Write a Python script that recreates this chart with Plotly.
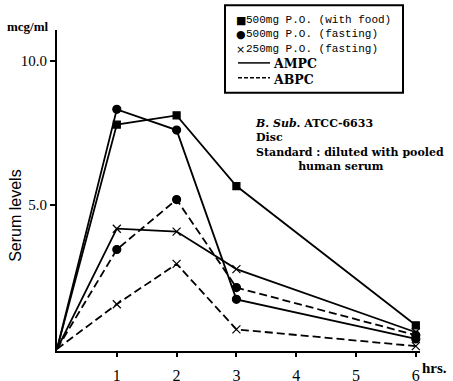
import plotly.graph_objects as go

# ---- data ----
hours = [0, 1, 2, 3, 6]
ampc_500_food = [0, 7.78, 8.10, 5.65, 0.82]
ampc_500_fast = [0, 8.31, 7.59, 1.72, 0.35]
ampc_250_fast = [0, 4.17, 4.07, 2.77, 0.58]
abpc_500_fast = [0, 3.45, 5.18, 2.13, 0.48]
abpc_250_fast = [0, 1.55, 2.95, 0.68, 0.10]
x_ticks = [1, 2, 3, 4, 5, 6]
x_ticktext = ["1", "2", "3", "4", "5", "6"]
y_ticks = [5, 10]
y_ticktext = ["5.0", "10.0"]
legend_labels = ["500mg P.O. (with food)", "500mg P.O. (fasting)", "250mg P.O. (fasting)"]
legend_markers = ["\u25a0", "\u25cf", "\u00d7"]
line_labels = ["AMPC", "ABPC"]
info_lines = ["<i>B. Sub.</i> ATCC-6633", "Disc", "Standard : diluted with pooled",
              "&nbsp;" * 11 + "human serum"]

W, H0 = 453, 381
K = 396 / 381          # vertical stretch to fill the photographed page
H = round(H0 * K)
L, R = 57, 33
T = round(29 * K)
B = H - round(352 * K)
PW, PH = W - L - R, H - T - B

def px(x):
    return (x - L) / PW

def py(y):
    return (H - B - y * K) / PH

SERIF = "Liberation Serif"

def series(y, symbol, size, dash, name):
    sizes = [0] + [size] * (len(y) - 1)
    return go.Scatter(
        x=hours, y=y, mode="lines+markers", name=name,
        line=dict(color="black", width=1.8, dash=dash),
        marker=dict(symbol=symbol, size=sizes, color="black", opacity=1,
                    line=dict(color="black", width=1.2)),
        showlegend=False, cliponaxis=False, hoverinfo="skip",
    )

fig = go.Figure()
fig.add_trace(series(ampc_500_food, "square", 7, "solid", "AMPC 500mg food"))
fig.add_trace(series(ampc_500_fast, "circle", 8, "solid", "AMPC 500mg fasting"))
fig.add_trace(series(ampc_250_fast, "x-thin-open", 8, "solid", "AMPC 250mg fasting"))
fig.add_trace(series(abpc_500_fast, "circle", 8, "8px,4px", "ABPC 500mg fasting"))
fig.add_trace(series(abpc_250_fast, "x-thin-open", 8, "8px,4px", "ABPC 250mg fasting"))

shapes = []
annotations = []

# legend box
shapes.append(dict(type="rect", xref="paper", yref="paper",
                   x0=px(225), x1=px(403), y0=py(92), y1=py(4),
                   line=dict(color="black", width=2), fillcolor="white", layer="above"))
annotations.append(dict(xref="paper", yref="paper", x=px(234), y=py(11),
                        text="<br>".join(legend_markers), showarrow=False,
                        xanchor="left", yanchor="top", align="left",
                        font=dict(family="DejaVu Sans", size=11, color="black")))
annotations.append(dict(xref="paper", yref="paper", x=px(244), y=py(11),
                        text="<br>".join(legend_labels), showarrow=False,
                        xanchor="left", yanchor="top", align="left",
                        font=dict(family="Liberation Mono", size=11, color="black")))
for yy, dash in zip([62, 77], ["solid", "4px,2px"]):
    shapes.append(dict(type="line", xref="paper", yref="paper",
                       x0=px(238), x1=px(270), y0=py(yy), y1=py(yy),
                       line=dict(color="black", width=1.5, dash=dash)))
annotations.append(dict(xref="paper", yref="paper", x=px(271), y=py(53),
                        text="<br>".join("<b>" + s + "</b>" for s in line_labels),
                        showarrow=False, xanchor="left", yanchor="top", align="left",
                        font=dict(family="DejaVu Serif", size=12.5, color="black")))

# info text
annotations.append(dict(xref="paper", yref="paper", x=px(253), y=py(114),
                        text="<br>".join("<b>" + s + "</b>" for s in info_lines),
                        showarrow=False, xanchor="left", yanchor="top", align="left",
                        font=dict(family="DejaVu Serif", size=11, color="black")))

annotations.append(dict(xref="paper", yref="paper", x=px(5), y=py(25), text="<b>mcg/ml</b>",
                        showarrow=False, xanchor="left", yanchor="middle",
                        font=dict(family=SERIF, size=13, color="black")))
annotations.append(dict(xref="paper", yref="paper", x=px(16), y=py(216), text="Serum levels",
                        showarrow=False, xanchor="center", yanchor="middle", textangle=-90,
                        font=dict(family="Liberation Sans", size=16, color="black")))
annotations.append(dict(xref="paper", yref="paper", x=px(420), y=py(369), text="<b>hrs.</b>",
                        showarrow=False, xanchor="left", yanchor="middle",
                        font=dict(family=SERIF, size=15, color="black")))

fig.update_layout(
    width=W, height=H,
    margin=dict(l=L, r=R, t=T, b=B, pad=0),
    paper_bgcolor="white", plot_bgcolor="white",
    shapes=shapes, annotations=annotations,
    xaxis=dict(range=[0, 6.07], tickvals=x_ticks, ticktext=x_ticktext,
               showline=True, linecolor="black", linewidth=2, showgrid=False, zeroline=False,
               ticks="outside", ticklen=4, tickwidth=1.5, tickcolor="black", ticklabelstandoff=5,
               tickfont=dict(family=SERIF, size=16, color="black"), tickprefix="<b>", ticksuffix="</b>"),
    yaxis=dict(range=[-0.07, 11.06], tickvals=y_ticks, ticktext=y_ticktext,
               showline=True, linecolor="black", linewidth=2, showgrid=False, zeroline=False,
               ticks="outside", ticklen=5, tickwidth=1.5, tickcolor="black",
               tickfont=dict(family=SERIF, size=15, color="black"), tickprefix="<b>", ticksuffix="</b>"),
)

fig.write_html(
    "out.html", config={"displayModeBar": False},
    post_script=("document.documentElement.style.margin='0';"
                 "document.documentElement.style.overflow='hidden';"
                 "document.body.style.margin='0';document.body.style.overflow='hidden';"),
)
